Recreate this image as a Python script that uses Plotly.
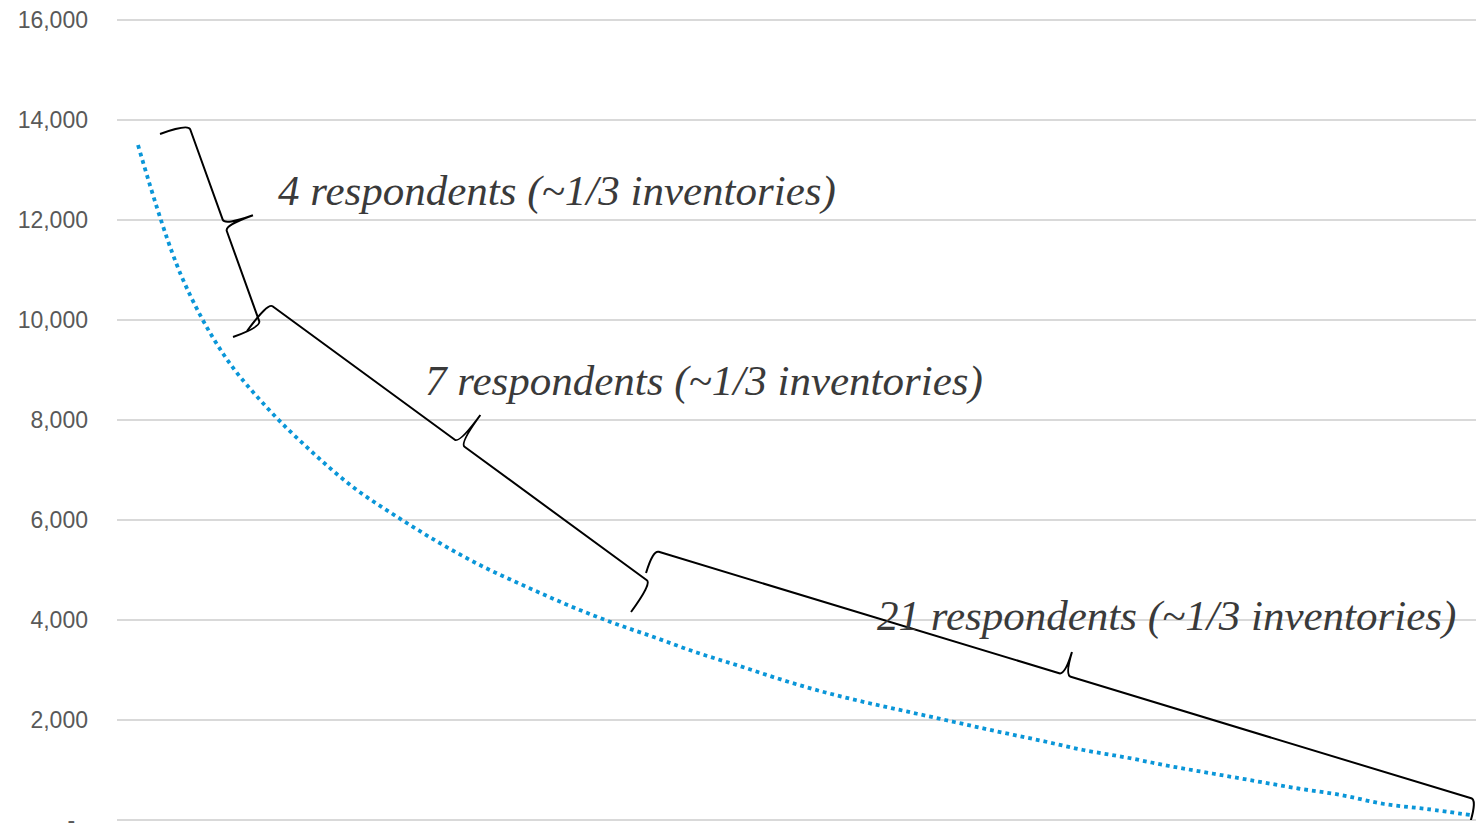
import plotly.graph_objects as go

# ---- data ----
respondent_rank = list(range(1, 33))
inventory_size = [13500, 10900, 9300, 8250, 7400, 6660, 6080, 5550, 5080, 4680,
                  4300, 3960, 3660, 3350, 3080, 2800, 2550, 2340, 2150, 1960,
                  1770, 1590, 1400, 1250, 1080, 930, 780, 630, 500, 320, 220, 100]
y_tick_vals = [0, 2000, 4000, 6000, 8000, 10000, 12000, 14000, 16000]
y_tick_text = ["-\u00a0\u00a0", "2,000", "4,000", "6,000", "8,000", "10,000", "12,000", "14,000", "16,000"]
group_labels = ["4 respondents (~1/3 inventories)",
                "7 respondents (~1/3 inventories)",
                "21 respondents (~1/3 inventories)"]

# ---- layout geometry ----
FIG_W, FIG_H = 1476, 823
M_L, M_R, M_T, M_B = 117, 0, 17, 3
PW, PH = FIG_W - M_L - M_R, FIG_H - M_T - M_B
X_RANGE = [0.511, 32.139]
Y_RANGE = [0, 16060]


def to_px(x, y):
    px = M_L + (x - X_RANGE[0]) / (X_RANGE[1] - X_RANGE[0]) * PW
    py = M_T + PH - (y - Y_RANGE[0]) / (Y_RANGE[1] - Y_RANGE[0]) * PH
    return px, py


def to_data(px, py):
    x = X_RANGE[0] + (px - M_L) / PW * (X_RANGE[1] - X_RANGE[0])
    y = Y_RANGE[0] + (M_T + PH - py) / PH * (Y_RANGE[1] - Y_RANGE[0])
    return x, y


def brace_path(a, b, depth, curl=6):
    ax, ay = to_px(*a)
    bx, by = to_px(*b)
    dx, dy = bx - ax, by - ay
    ln = (dx * dx + dy * dy) ** 0.5
    ux, uy = dx / ln, dy / ln
    nx, ny = uy, -ux  # toward upper right
    h2 = depth / 2
    mx, my = (ax + bx) / 2, (ay + by) / 2

    def P(bx_, by_, du, dn):
        return to_data(bx_ + ux * du + nx * dn, by_ + uy * du + ny * dn)

    pts = [
        ("M", [P(ax, ay, 0, 0)]),
        ("Q", [P(ax, ay, 0, h2), P(ax, ay, curl, h2)]),
        ("L", [P(mx, my, -curl, h2)]),
        ("Q", [P(mx, my, 0, h2), P(mx, my, 0, depth)]),
        ("Q", [P(mx, my, 0, h2), P(mx, my, curl, h2)]),
        ("L", [P(bx, by, -curl, h2)]),
        ("Q", [P(bx, by, 0, h2), P(bx, by, 0, 0)]),
    ]
    s = ""
    for cmd, ps in pts:
        s += cmd + " " + " ".join(f"{x:.5f},{y:.3f}" for x, y in ps) + " "
    return s.strip()


braces = [
    dict(a=(1.512, 13720), b=(3.211, 9660), depth=60),
    dict(a=(3.537, 9780), b=(12.474, 4160), depth=70),
    dict(a=(12.823, 4940), b=(32.0, -60), depth=48),
]
label_pos = [(4.22, 12580), (7.64, 8780), (18.16, 4080)]

fig = go.Figure()
fig.add_trace(go.Scatter(
    x=respondent_rank, y=inventory_size, mode="lines",
    line=dict(color="#0a96d8", width=3.8, dash="3.8px,4px", shape="spline", smoothing=1),
    showlegend=False, hoverinfo="skip",
))

for br in braces:
    fig.add_shape(type="path", xref="x", yref="y",
                  path=brace_path(br["a"], br["b"], br["depth"]),
                  line=dict(color="black", width=2))

for txt, (x, y) in zip(group_labels, label_pos):
    fig.add_annotation(x=x, y=y, xref="x", yref="y", text=txt, showarrow=False,
                       xanchor="left", yanchor="middle",
                       font=dict(family="Liberation Serif", size=43, color="#3a3a3a", style="italic"))

fig.update_layout(
    width=FIG_W, height=FIG_H,
    margin=dict(l=M_L, r=M_R, t=M_T, b=M_B, pad=0, autoexpand=False),
    plot_bgcolor="white", paper_bgcolor="white",
    xaxis=dict(range=X_RANGE, showgrid=False, zeroline=False, showticklabels=False,
               showline=False, ticks="", automargin=False),
    yaxis=dict(range=Y_RANGE, tickvals=y_tick_vals, ticktext=y_tick_text,
               showgrid=True, gridcolor="#d9d9d9", gridwidth=1.5,
               zeroline=True, zerolinecolor="#d9d9d9", zerolinewidth=1.5,
               showline=False, ticks="", ticklabelstandoff=28, ticklabeloverflow="allow",
               automargin=False,
               tickfont=dict(family="Liberation Sans, Arial", size=23, color="#595959")),
)

fig.write_html("out.html", config={"displayModeBar": False},
               post_script="document.body.style.margin='0';document.body.style.overflow='hidden';")
